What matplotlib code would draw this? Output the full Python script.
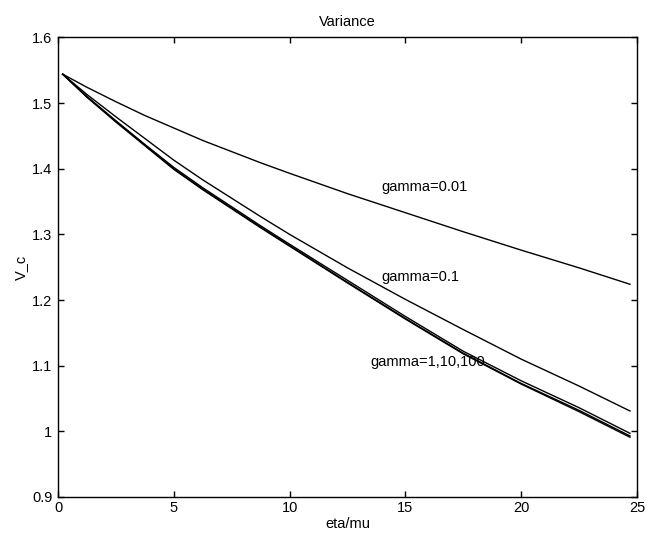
import matplotlib
matplotlib.use("Agg")
import matplotlib.pyplot as plt

plt.rcParams['font.family'] = ['Liberation Sans', 'DejaVu Sans']

# eta/mu sample positions
eta_mu = [0.2, 1.25, 2.5, 3.75, 5.0, 6.25, 7.5, 8.75, 10.0,
          12.5, 15.0, 17.5, 20.0, 22.5, 24.7]

# variance V_c for each gamma
vc_gamma_001 = [1.544, 1.524, 1.502, 1.481, 1.462, 1.443, 1.426, 1.409, 1.393,
                1.362, 1.333, 1.304, 1.276, 1.249, 1.224]
vc_gamma_01 = [1.544, 1.513, 1.479, 1.446, 1.413, 1.383, 1.355, 1.327, 1.300,
               1.249, 1.201, 1.155, 1.110, 1.069, 1.031]
vc_gamma_1 = [1.544, 1.510, 1.473, 1.437, 1.402, 1.371, 1.342, 1.313, 1.285,
              1.230, 1.175, 1.122, 1.077, 1.036, 0.997]
vc_gamma_10 = [1.544, 1.509, 1.472, 1.436, 1.400, 1.369, 1.340, 1.311, 1.283,
               1.227, 1.172, 1.119, 1.073, 1.032, 0.993]
vc_gamma_100 = [1.544, 1.509, 1.471, 1.435, 1.399, 1.368, 1.339, 1.310, 1.282,
                1.226, 1.171, 1.118, 1.072, 1.030, 0.991]

x_ticks = [0, 5, 10, 15, 20, 25]
y_ticks = [0.9, 1.0, 1.1, 1.2, 1.3, 1.4, 1.5, 1.6]
y_tick_labels = ['0.9', '1', '1.1', '1.2', '1.3', '1.4', '1.5', '1.6']

fig = plt.figure(figsize=(6.49, 5.34), dpi=100)
ax = fig.add_axes([0.0894, 0.0693, 0.892, 0.8607])

for vals in (vc_gamma_001, vc_gamma_01, vc_gamma_1, vc_gamma_10, vc_gamma_100):
    ax.plot(eta_mu, vals, color='black', linewidth=1.0)

ax.set_xlim(0, 25)
ax.set_ylim(0.9, 1.6)
ax.set_xticks(x_ticks)
ax.set_xticklabels([str(t) for t in x_ticks])
ax.set_yticks(y_ticks)
ax.set_yticklabels(y_tick_labels)
ax.tick_params(direction='in', length=4, width=1, top=True, right=True,
               labelsize=10.5, pad=4)
ax.tick_params(axis='x', pad=3)
for s in ax.spines.values():
    s.set_linewidth(1.0)

ax.text(13.97, 1.372, 'gamma=0.01', fontsize=10.5, va='center', ha='left')
ax.text(13.97, 1.235, 'gamma=0.1', fontsize=10.5, va='center', ha='left')
ax.text(13.5, 1.106, 'gamma=1,10,100', fontsize=10.5, va='center', ha='left')

ax.set_title('Variance', fontsize=10.5, pad=8)
ax.set_xlabel('eta/mu', fontsize=10.5, labelpad=1)
ax.set_ylabel('V_c', fontsize=10.5, labelpad=3)

fig.savefig('out.png', dpi=100)
